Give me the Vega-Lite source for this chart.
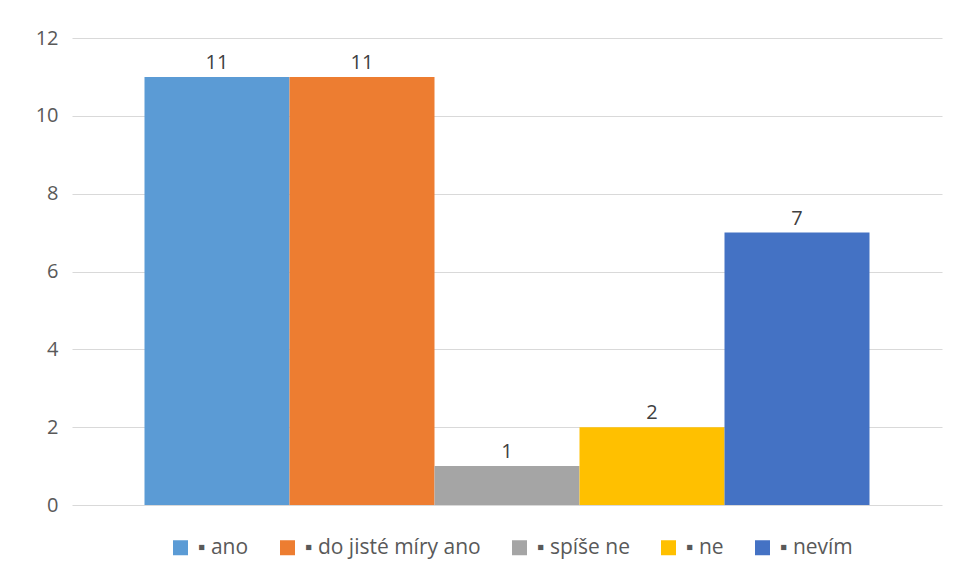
{
  "$schema": "https://vega.github.io/schema/vega-lite/v6.json",
  "width": 870,
  "height": 467,
  "autosize": {"type": "none"},
  "padding": {"left": 72, "top": 38, "right": 12, "bottom": 74},
  "background": "white",
  "config": {
    "view": {"stroke": null},
    "font": "Open Sans"
  },
  "data": {
    "values": [
      {"odpoved": "ano", "pocet": 11},
      {"odpoved": "do jisté míry ano", "pocet": 11},
      {"odpoved": "spíše ne", "pocet": 1},
      {"odpoved": "ne", "pocet": 2},
      {"odpoved": "nevím", "pocet": 7}
    ]
  },
  "encoding": {
    "x": {
      "field": "odpoved",
      "type": "nominal",
      "sort": null,
      "scale": {"paddingInner": 0, "paddingOuter": 0.5},
      "axis": null
    },
    "y": {
      "field": "pocet",
      "type": "quantitative",
      "scale": {"domain": [0, 12]},
      "axis": {
        "title": null,
        "values": [0, 2, 4, 6, 8, 10, 12],
        "domain": false,
        "ticks": false,
        "gridColor": "#d9d9d9",
        "gridWidth": 1,
        "labelColor": "#595959",
        "labelFontSize": 20,
        "labelPadding": 14,
        "labelFont": "Open Sans"
      }
    }
  },
  "layer": [
    {
      "mark": {"type": "bar"},
      "encoding": {
        "color": {
          "field": "odpoved",
          "type": "nominal",
          "sort": null,
          "scale": {
            "domain": ["ano", "do jisté míry ano", "spíše ne", "ne", "nevím"],
            "range": ["#5B9BD5", "#ED7D31", "#A5A5A5", "#FFC000", "#4472C4"]
          },
          "legend": {
            "title": null,
            "orient": "none",
            "direction": "horizontal",
            "legendX": 98,
            "legendY": 499,
            "symbolType": "square",
            "symbolSize": 225,
            "symbolStrokeWidth": 0,
            "labelFontSize": 21,
            "labelColor": "#595959",
            "labelFont": "Open Sans",
            "labelOffset": 7,
            "labelLimit": 400,
            "columnPadding": 28,
            "labelExpr": "'▪ ' + datum.label"
          }
        }
      }
    },
    {
      "mark": {"type": "text", "baseline": "bottom", "dy": -4, "fontSize": 20, "color": "#404040", "font": "Open Sans"},
      "encoding": {
        "text": {"field": "pocet", "type": "quantitative"}
      }
    }
  ]
}
